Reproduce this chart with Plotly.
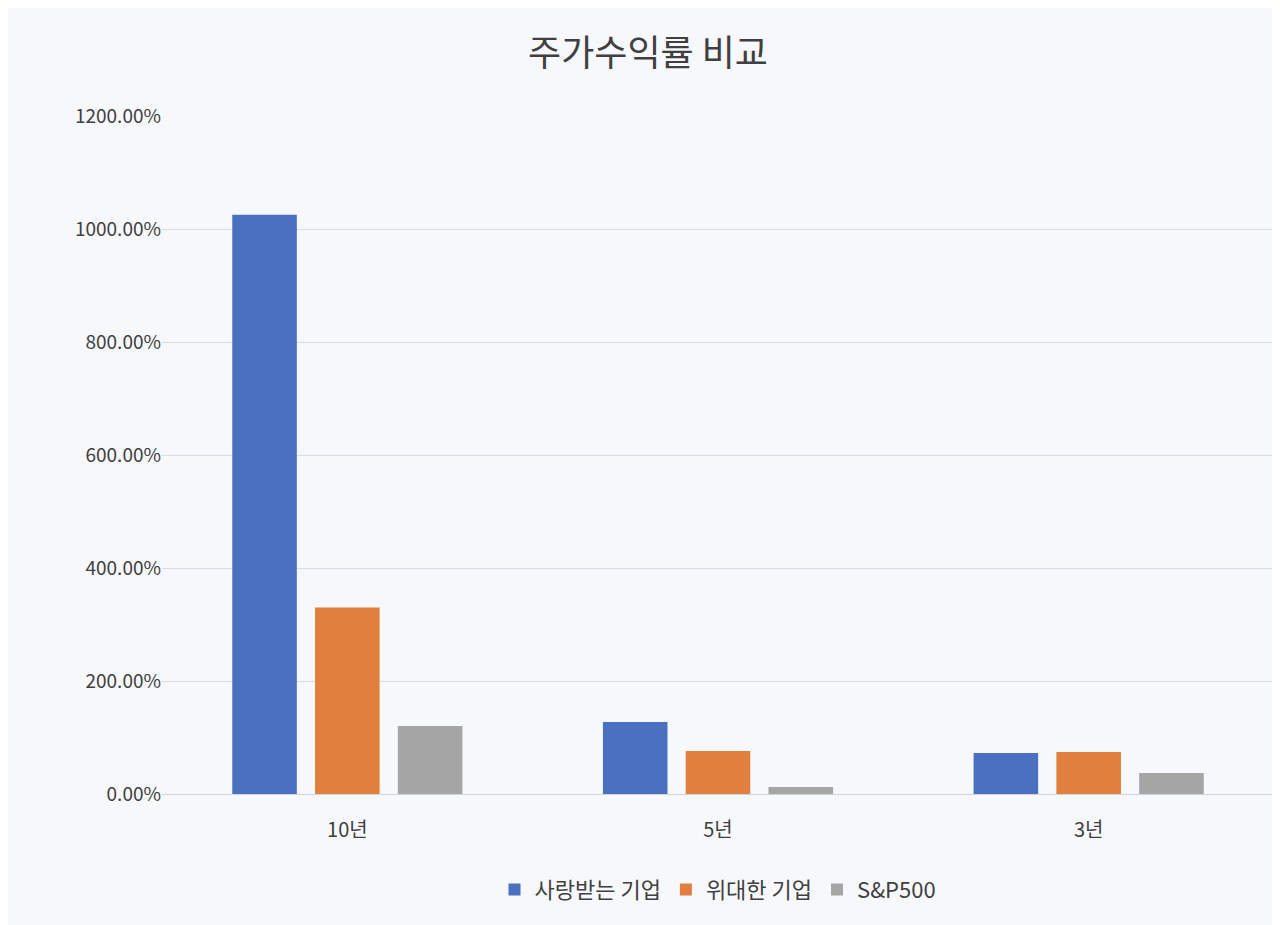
import plotly.graph_objects as go

categories = ["10년", "5년", "3년"]
series_names = ["사랑받는 기업", "위대한 기업", "S&P500"]
loved = [1025, 127.6, 72.7]
great = [330, 76, 74.4]
sp500 = [120.5, 12.4, 37]
colors = ["#4A70C1", "#E07F3E", "#A5A5A5"]
tick_vals = [0, 200, 400, 600, 800, 1000, 1200]
tick_text = [f"{v:.2f}%" for v in tick_vals]

fig = go.Figure()
for name, vals, c in zip(series_names, [loved, great, sp500], colors):
    fig.add_bar(x=categories, y=vals, name=name, marker_color=c,
                marker_line_width=0)

bg = "#F7F8FC"
fig.update_layout(
    width=1280, height=925,
    paper_bgcolor=bg, plot_bgcolor=bg,
    font=dict(family="Noto Sans CJK KR", color="#404040", size=19),
    title=dict(text="주가수익률 비교", x=0.5, y=0.965, xanchor="center",
               font=dict(size=36, color="#404040")),
    barmode="group", bargap=0.33, bargroupgap=0.22,
    margin=dict(l=154, r=14, t=108, b=139),
    legend=dict(orientation="h", x=0.5, xanchor="center", y=-0.11,
                yanchor="top", font=dict(size=22)),
    showlegend=True,
)
fig.update_yaxes(range=[0, 1200], tickvals=tick_vals, ticktext=tick_text,
                 gridcolor="#D9DCE3", zeroline=False, ticks="",
                 tickfont=dict(size=19))
fig.update_xaxes(showline=True, linecolor="#D0D3DA", tickfont=dict(size=20),
                 ticklabelstandoff=18)
fig.write_html("out.html")
